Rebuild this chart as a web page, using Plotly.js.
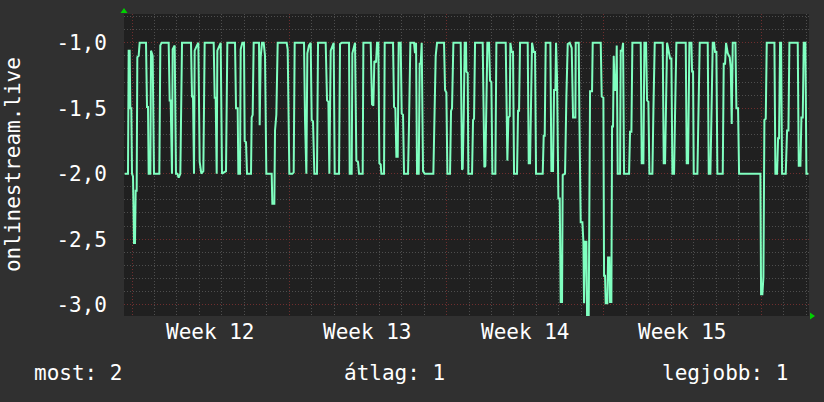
<!DOCTYPE html>
<html>
<head>
<meta charset="utf-8">
<script src="https://cdn.plot.ly/plotly-3.0.1.min.js"></script>
<style>
html,body{margin:0;padding:0;background:#303030;}
#chart{width:824px;height:402px;}
</style>
</head>
<body>
<div id="chart"></div>
<script>
// time in days since the Monday that starts Week 12
const days = [
-0.326,-0.178,-0.148,-0.104,-0.074,-0.030,0,0.045,0.089,0.134,0.163,0.208,0.237,0.297,0.341,0.623,0.668,0.712,0.742,0.816,0.846,0.920,0.979,1.217,1.261,1.320,1.632,1.677,1.721,1.751,1.780,1.810,1.899,1.958,2.018,2.077,2.151,2.226,2.626,2.671,2.715,2.760,2.789,2.893,2.953,3.012,3.086,3.175,3.234,3.635,3.680,3.724,3.769,3.798,3.887,3.947,4.006,4.184,4.243,
4.585,4.629,4.703,4.733,4.807,4.837,4.911,4.985,5.015,5.074,5.119,5.297,5.326,5.371,5.415,5.653,5.682,5.727,5.786,5.861,5.920,5.979,6.217,6.246,6.335,6.365,6.424,6.484,6.884,6.929,7.003,7.136,7.196,7.240,7.656,7.700,7.760,7.804,7.878,7.953,7.997,8.056,8.116,8.234,8.279,8.620,8.680,8.739,8.783,8.843,8.917,8.976,9.021,9.214,9.258,9.332,
9.614,9.659,9.688,9.777,9.807,9.881,9.926,9.985,10.059,10.104,10.267,10.297,10.623,10.682,10.742,10.786,10.861,10.905,10.964,11.009,11.068,11.098,11.217,11.246,11.617,11.662,11.721,11.766,11.825,11.869,11.958,12.003,12.062,12.107,12.285,12.329,12.389,12.552,12.596,12.641,12.685,12.760,12.804,12.849,12.893,12.953,13.027,13.412,13.457,13.516,13.576,13.887,13.932,13.991,14.036,14.154,14.199,14.243,14.303,14.629,14.688,
14.718,14.763,14.807,14.866,14.881,14.941,14.970,15.134,15.178,15.223,15.267,15.608,15.653,15.682,15.727,15.772,15.816,15.890,15.935,15.994,16.039,16.172,16.217,16.632,16.677,16.706,16.751,16.810,16.840,16.899,16.958,17.003,17.136,17.181,17.226,17.270,17.611,17.656,17.715,17.760,17.804,17.878,17.938,17.982,18.279,18.323,18.368,18.412,18.620,18.665,18.739,18.783,18.843,18.872,18.917,18.976,19.036,19.080,19.139,19.169,19.273,19.332,19.392,19.481,19.570,19.629,19.733,
19.748,19.881,19.911,19.970,20.045,20.089,20.119,20.163,20.223,20.252,20.326,20.386,20.475,20.504,20.861,20.905,20.979,21.009,21.053,21.083,21.157,21.187,21.246,21.276,21.335,21.365,21.409,21.439,21.484,21.543,21.573,21.617,21.721,21.751,21.810,21.855,21.899,22.122,22.166,22.226,22.270,22.641,22.685,22.760,22.804,22.878,22.923,22.982,23.027,23.160,23.205,23.264,23.620,23.665,23.724,23.769,23.813,23.947,24.006,24.050,24.125,24.169,24.228,24.644,24.688,24.748,
24.777,24.807,24.896,24.926,24.970,25.000,25.163,25.208,25.267,25.623,25.668,25.742,25.786,25.846,25.905,25.950,26.009,26.053,26.291,26.335,26.395,26.439,26.513,26.602,26.647,26.691,26.736,26.855,26.899,26.973,27.018,27.967,27.997,28.056,28.101,28.145,28.205,28.249,28.591,28.635,28.709,28.754,28.798,28.843,28.887,28.932,29.095,29.154,29.214,29.258,29.629,29.674,29.748,29.792,29.852,29.896,29.970,30.015,30.104
];
const values = [
-2.0,-2.0,-1.06,-1.06,-1.5,-1.5,-2.0,-2.02,-2.53,-2.53,-2.13,-2.13,-1.11,-1.1,-1.0,-1.0,-1.49,-1.49,-2.0,-2.0,-1.06,-1.1,-2.0,-2.0,-1.02,-1.0,-1.0,-1.44,-1.44,-2.0,-2.0,-1.05,-1.02,-2.0,-2.0,-2.03,-2.0,-1.0,-1.0,-1.41,-1.41,-2.0,-1.06,-1.02,-1.0,-1.91,-2.0,-1.98,-1.0,-1.0,-1.42,-1.42,-2.0,-1.06,-1.02,-1.0,-2.0,-1.98,-1.0,
-1.0,-1.5,-1.5,-2.0,-2.0,-1.05,-1.0,-1.0,-1.75,-1.76,-2.0,-2.0,-1.57,-1.55,-1.0,-1.0,-1.63,-1.11,-1.0,-1.0,-1.1,-2.0,-2.0,-2.23,-2.23,-1.67,-1.55,-1.0,-1.0,-1.05,-2.0,-2.0,-1.99,-1.0,-1.0,-1.59,-2.0,-1.08,-1.02,-1.0,-1.59,-1.6,-2.0,-2.0,-1.0,-1.0,-1.44,-1.45,-2.0,-1.06,-1.02,-1.0,-2.0,-2.0,-1.01,-1.0,
-1.0,-1.0,-2.0,-2.0,-1.08,-1.02,-1.0,-1.9,-1.91,-2.0,-2.0,-1.0,-1.0,-1.47,-1.48,-1.14,-1.15,-1.0,-1.0,-1.92,-1.93,-2.0,-2.0,-1.0,-1.0,-1.49,-1.5,-1.87,-1.87,-1.0,-1.0,-1.54,-1.55,-2.0,-2.0,-1.62,-1.0,-1.0,-1.08,-1.0,-2.0,-2.0,-1.16,-1.16,-1.0,-1.98,-2.0,-2.0,-1.61,-1.1,-1.0,-1.0,-1.36,-1.38,-2.0,-2.0,-1.52,-1.5,-1.0,-1.0,-1.97,
-1.96,-1.57,-1.0,-1.0,-1.22,-1.23,-2.0,-2.0,-1.59,-1.58,-1.0,-1.0,-1.52,-1.95,-1.94,-1.52,-1.0,-1.0,-1.29,-1.3,-2.0,-2.0,-1.0,-1.0,-1.57,-1.9,-1.57,-1.56,-1.0,-1.07,-1.07,-2.0,-2.0,-1.52,-1.52,-1.0,-1.0,-1.92,-1.92,-1.49,-1.0,-1.07,-1.07,-2.0,-2.0,-1.71,-1.71,-1.0,-1.0,-1.98,-1.98,-1.36,-1.36,-1.0,-1.27,-2.19,-2.19,-2.98,-2.98,-2.01,-2.0,-1.41,-1.01,-1.0,-1.04,-1.57,-1.57,
-1.0,-1.0,-1.57,-2.37,-2.37,-2.52,-2.99,-2.52,-2.52,-3.08,-3.08,-1.37,-1.37,-1.0,-1.0,-1.41,-1.42,-2.78,-2.78,-2.99,-2.99,-2.64,-2.64,-2.98,-2.98,-1.64,-1.64,-1.1,-1.36,-1.36,-1.02,-2.0,-2.0,-1.06,-1.06,-1.0,-2.0,-2.0,-1.68,-1.68,-1.0,-1.0,-1.92,-1.92,-1.0,-1.0,-1.44,-1.45,-2.0,-2.0,-1.52,-1.0,-1.0,-1.92,-1.92,-1.57,-1.0,-1.12,-1.12,-2.0,-2.0,-1.54,-1.0,-1.0,-1.92,-1.92,
-1.59,-1.0,-1.0,-1.22,-1.22,-2.0,-2.0,-1.54,-1.0,-1.0,-2.0,-2.0,-1.47,-1.0,-1.0,-1.07,-1.07,-2.0,-2.0,-1.16,-1.16,-1.0,-1.08,-1.11,-1.19,-1.62,-1.0,-1.0,-1.5,-1.5,-2.0,-2.0,-2.92,-2.92,-2.79,-1.59,-1.58,-1.0,-1.0,-2.0,-2.0,-1.73,-1.73,-1.0,-1.0,-2.0,-2.0,-1.67,-1.67,-1.0,-1.0,-1.94,-1.94,-1.57,-1.57,-1.0,-1.0,-2.0,-2.0
];
const weekStarts = [0, 7, 14, 21, 28];
const weekMid = [3.5, 10.5, 17.5, 24.5];
const weekLabels = ['Week 12', 'Week 13', 'Week 14', 'Week 15'];
const yTickVals = [-1.0, -1.5, -2.0, -2.5, -3.0];
const yTickText = ['-1,0', '-1,5', '-2,0', '-2,5', '-3,0'];
const seriesName = 'onlinestream.live';
const legendItems = ['most: 2', 'átlag: 1', 'legjobb: 1'];

const FONT = 'DejaVu Sans Mono';
const fontSpec = {family: FONT, size: 21, color: '#ffffff'};
const grayGrid = '#4e4e4e';
const redGrid = '#6e2e2e';

const trace = {
  x: days, y: values, type: 'scatter', mode: 'lines',
  line: {color: '#80ffc0', width: 2}, hoverinfo: 'skip', showlegend: false
};

const annotations = [];
weekLabels.forEach((t, i) => annotations.push({
  text: t, x: weekMid[i], xref: 'x', y: -0.053, yref: 'paper',
  xanchor: 'center', yanchor: 'middle', showarrow: false, font: fontSpec
}));
annotations.push({text: seriesName, textangle: -90, x: -0.162, xref: 'paper', y: 0.5, yref: 'paper',
  xanchor: 'center', yanchor: 'middle', showarrow: false, font: fontSpec});
const legPos = [[-0.134, 'left'], [0.318, 'left'], [0.972, 'right']];
legendItems.forEach((t, i) => annotations.push({
  text: t, x: legPos[i][0], xref: 'paper', y: -0.189, yref: 'paper',
  xanchor: legPos[i][1], yanchor: 'middle', showarrow: false, font: fontSpec
}));

const layout = {
  width: 824, height: 402,
  margin: {l: 124, r: 15, t: 14, b: 86},
  paper_bgcolor: '#303030', plot_bgcolor: '#202020',
  font: fontSpec,
  showlegend: false,
  xaxis: {
    range: [-0.356, 30.13], tickmode: 'array', tickvals: weekStarts,
    ticktext: weekStarts.map(() => ''), showticklabels: false, ticks: '',
    showgrid: true, gridcolor: redGrid, griddash: '1px,2px', gridwidth: 1,
    minor: {dtick: 1, tick0: 0, showgrid: true, gridcolor: grayGrid, griddash: '1px,2px', gridwidth: 1},
    zeroline: false, showline: false, fixedrange: true
  },
  yaxis: {
    range: [-3.087, -0.78], tickmode: 'array', tickvals: yTickVals, ticktext: yTickText,
    ticks: '', ticklabelstandoff: 16, tickfont: fontSpec,
    showgrid: true, gridcolor: redGrid, griddash: '1px,2px', gridwidth: 1,
    minor: {dtick: 0.1, tick0: 0, showgrid: true, gridcolor: grayGrid, griddash: '1px,2px', gridwidth: 1},
    zeroline: false, showline: false, fixedrange: true
  },
  annotations: annotations,
  shapes: [
    {type: 'path', xref: 'paper', yref: 'paper', xsizemode: 'pixel', ysizemode: 'pixel',
     xanchor: 0, yanchor: 1, path: 'M -3.5 1 L 3.5 1 L 0 6 Z', fillcolor: '#00d000', line: {width: 0}},
    {type: 'path', xref: 'paper', yref: 'paper', xsizemode: 'pixel', ysizemode: 'pixel',
     xanchor: 1, yanchor: 0, path: 'M 1 -3.5 L 1 3.5 L 6 0 Z', fillcolor: '#00d000', line: {width: 0}}
  ]
};

Plotly.newPlot('chart', [trace], layout, {staticPlot: true, displayModeBar: false});
</script>
</body>
</html>
